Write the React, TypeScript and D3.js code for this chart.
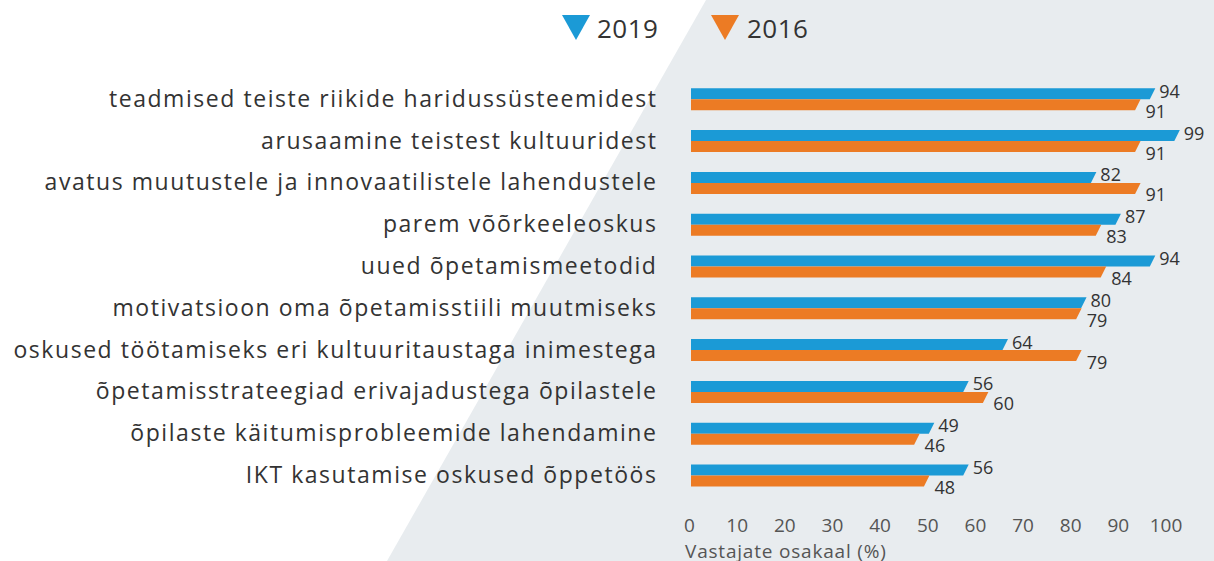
import React from "react";
import * as d3 from "d3";

const categories = [
  "teadmised teiste riikide haridussüsteemidest",
  "arusaamine teistest kultuuridest",
  "avatus muutustele ja innovaatilistele lahendustele",
  "parem võõrkeeleoskus",
  "uued õpetamismeetodid",
  "motivatsioon oma õpetamisstiili muutmiseks",
  "oskused töötamiseks eri kultuuritaustaga inimestega",
  "õpetamisstrateegiad erivajadustega õpilastele",
  "õpilaste käitumisprobleemide lahendamine",
  "IKT kasutamise oskused õppetöös",
];
const values2019 = [94, 99, 82, 87, 94, 80, 64, 56, 49, 56];
const values2016 = [91, 91, 91, 83, 84, 79, 79, 60, 46, 48];
const seriesNames = ["2019", "2016"];
const tickValues = [0, 10, 20, 30, 40, 50, 60, 70, 80, 90, 100];
const axisTitle = "Vastajate osakaal (%)";

const W = 1214;
const H = 561;
const BLUE = "#1b9ad6";
const ORANGE = "#ec7b24";
const BG = "#e8ecef";
const FONT = "'Open Sans', 'Noto Sans', sans-serif";

export default function App() {
  const x = d3.scaleLinear().domain([0, 100]).range([691, 1182]);
  const tickX = d3.scaleLinear().domain([0, 100]).range([689.5, 1166]);
  const y = d3.scalePoint<string>().domain(categories).range([99.3, 475.5]);
  const bh = 11;
  const slant = 2.75;

  const barPath = (v: number, top: number) => {
    const p = d3.path();
    p.moveTo(x(0), top);
    p.lineTo(x(v) + slant, top);
    p.lineTo(x(v) - slant, top + bh);
    p.lineTo(x(0), top + bh);
    p.closePath();
    return p.toString();
  };

  return (
    <svg
      width={W}
      height={H}
      style={{ position: "absolute", left: 0, top: 0, fontFamily: FONT }}
    >
      <rect width={W} height={H} fill="#ffffff" />
      <polygon points={`706,0 ${W},0 ${W},${H} 387,${H}`} fill={BG} />

      {/* legend */}
      <g>
        <polygon points="562,15 590,15 576,40" fill={BLUE} />
        <text x={597} y={38} fontSize={26} fill="#333" letterSpacing={0.5}>
          {seriesNames[0]}
        </text>
        <polygon points="711,15 739,15 725,40" fill={ORANGE} />
        <text x={747} y={38} fontSize={26} fill="#333" letterSpacing={0.5}>
          {seriesNames[1]}
        </text>
      </g>

      {categories.map((c, i) => {
        const cy = y(c) as number;
        const v1 = values2019[i];
        const v2 = values2016[i];
        return (
          <g key={c}>
            <text
              x={657.5}
              y={cy + 7.5}
              textAnchor="end"
              fontSize={23}
              letterSpacing={1.55}
              fill="#333"
            >
              {c}
            </text>
            <path d={barPath(v1, cy - bh)} fill={BLUE} />
            <path d={barPath(v2, cy)} fill={ORANGE} />
            <text x={x(v1) + slant + 4} y={cy - 1.5} fontSize={18} fill="#333">
              {v1}
            </text>
            <text x={x(v2) + slant + 5} y={cy + 18.5} fontSize={18} fill="#333">
              {v2}
            </text>
          </g>
        );
      })}

      {tickValues.map((t) => (
        <text
          key={t}
          x={tickX(t)}
          y={531.5}
          textAnchor="middle"
          fontSize={19}
          fill="#555"
        >
          {t}
        </text>
      ))}
      <text x={685} y={558} fontSize={19} fill="#555" letterSpacing={0.8}>
        {axisTitle}
      </text>
    </svg>
  );
}
